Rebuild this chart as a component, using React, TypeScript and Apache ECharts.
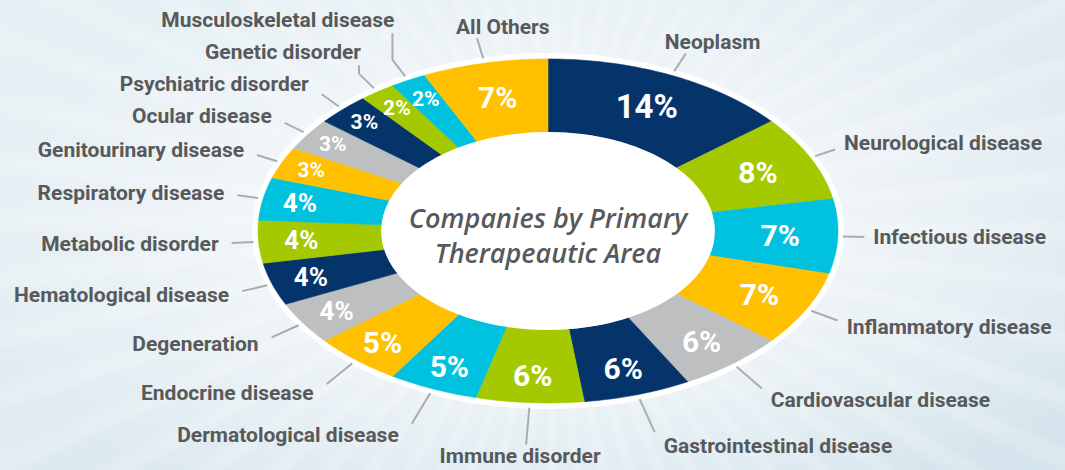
import React, { useEffect, useRef } from "react";
import * as echarts from "echarts";

const CATEGORIES = [
  "Neoplasm",
  "Neurological disease",
  "Infectious disease",
  "Inflammatory disease",
  "Cardiovascular disease",
  "Gastrointestinal disease",
  "Immune disorder",
  "Dermatological disease",
  "Endocrine disease",
  "Degeneration",
  "Hematological disease",
  "Metabolic disorder",
  "Respiratory disease",
  "Genitourinary disease",
  "Ocular disease",
  "Psychiatric disorder",
  "Genetic disorder",
  "Musculoskeletal disease",
  "All Others",
];
const VALUES = [14, 8, 7, 7, 6, 6, 6, 5, 5, 4, 4, 4, 4, 3, 3, 3, 2, 2, 7];
const PALETTE = ["#05346b", "#a4c900", "#00c2de", "#ffc000", "#bdbfc1"];
const CENTER_TITLE = ["Companies by Primary", "Therapeautic Area"];

// layout (geometry of the elliptical donut)
const CX = 548;
const CY = 231;
const RX = 290;
const RY = 172;
const INNER = 0.575;
const LABEL_FONT = "Roboto, sans-serif";
const LABEL_COLOR = "#58595b";
const LINE_COLOR = "#a9adb0";

function ptAt(t: number, sx: number, sy: number) {
  return [CX + sx * Math.sin(t), CY - sy * Math.cos(t)];
}

function computeLayout() {
  const total = VALUES.reduce((a, b) => a + b, 0);
  let acc = 0;
  const items = VALUES.map((v, i) => {
    const a0 = (acc / total) * Math.PI * 2;
    acc += v;
    const a1 = (acc / total) * Math.PI * 2;
    const am = (a0 + a1) / 2;
    const s = Math.sin(am);
    const c = Math.cos(am);
    const [ox, oy] = ptAt(am, RX, RY);
    let dx = s * 1.4;
    let dy = -c;
    const n = Math.hypot(dx, dy);
    dx /= n;
    dy /= n;
    const L = 26 + Math.max(0, -c) * 16;
    const sx0 = ox + dx * 5;
    const sy0 = oy + dy * 5;
    const ex = ox + dx * L;
    const ey = oy + dy * L;
    let side = "";
    let lx = 0;
    let ly = 0;
    let align = "left";
    let valign = "middle";
    if (c > 0 && Math.abs(s) < 0.45) {
      side = "top";
      lx = ex - 21;
      ly = ey - 1;
      valign = "bottom";
    } else if (c < 0 && Math.abs(s) < 0.2) {
      side = "bottom";
      lx = ex - 6;
      ly = ey + 1;
      align = "center";
      valign = "top";
    } else if (s > 0) {
      side = "right";
      lx = ex + 9;
      ly = ey - c * 15;
    } else {
      side = "left";
      lx = ex - 13;
      ly = ey - c * 12;
      align = "right";
    }
    const frac =
      0.8 +
      0.05 * Math.max(0, -s) +
      0.04 * Math.max(0, -c) +
      0.12 * Math.max(0, -s) * Math.max(0, c) -
      (Math.abs(s) < 0.3 && c > 0 ? 0.04 : 0);
    const [px, py] = ptAt(am, RX * frac, RY * frac);
    return {
      i, v, a0, a1, am, sx0, sy0, ex, ey, side, lx, ly, align, valign, px, py,
      pts: [[sx0, sy0], [ex, ey]] as number[][],
    };
  });
  // resolve overlaps of left-side labels, bottom to top
  const left = items.filter((d) => d.side === "left").sort((a, b) => b.ly - a.ly);
  for (let k = 1; k < left.length; k++) {
    const prev = left[k - 1];
    const cur = left[k];
    if (cur.ly > prev.ly - 32) {
      const shifted = prev.ly - 32;
      if (cur.ly - shifted > 5) {
        cur.lx = cur.ex + 2;
        cur.pts = [[cur.sx0, cur.sy0], [cur.ex, cur.ey], [cur.ex, shifted + 13]];
      }
      cur.ly = shifted;
    }
  }
  return items;
}

function pctFont(v: number) {
  if (v >= 10) return 33;
  if (v >= 5) return 30;
  if (v === 4) return 26;
  return 21;
}

export default function App() {
  const ref = useRef<HTMLDivElement>(null);
  useEffect(() => {
    if (!ref.current) return;
    const chart = echarts.init(ref.current, null, { renderer: "svg" });
    const layout = computeLayout();

    const renderItem = (params: any, api: any) => {
      const d = layout[params.dataIndex];
      const value = api.value(1);
      const color = PALETTE[params.dataIndex % PALETTE.length];
      const steps = Math.max(8, Math.ceil((d.a1 - d.a0) * 60));
      const outer: number[][] = [];
      const inner: number[][] = [];
      for (let k = 0; k <= steps; k++) {
        const t = d.a0 + ((d.a1 - d.a0) * k) / steps;
        outer.push(ptAt(t, RX, RY));
        inner.push(ptAt(t, RX * INNER, RY * INNER));
      }
      const points = outer.concat(inner.reverse());
      return {
        type: "group",
        children: [
          {
            type: "polygon",
            shape: { points },
            style: { fill: color, stroke: color, lineWidth: 0.6 },
          },
          {
            type: "polyline",
            shape: { points: d.pts },
            style: { stroke: LINE_COLOR, lineWidth: 2, fill: null },
          },
          {
            type: "text",
            x: d.px,
            y: d.py,
            style: {
              text: value + "%",
              fill: "#ffffff",
              fontFamily: LABEL_FONT,
              fontWeight: "bold",
              fontSize: pctFont(value),
              align: "center",
              verticalAlign: "middle",
            },
          },
          {
            type: "text",
            x: d.lx,
            y: d.ly,
            style: {
              text: CATEGORIES[params.dataIndex],
              fill: LABEL_COLOR,
              fontFamily: LABEL_FONT,
              fontWeight: "bold",
              fontSize: 21,
              align: d.align,
              verticalAlign: d.valign,
            },
          },
        ],
      };
    };

    chart.setOption({
      animation: false,
      graphic: [
        {
          type: "ellipse",
          shape: { cx: CX, cy: CY, rx: RX + 6, ry: RY + 6 },
          style: { fill: "#ffffff" },
          z: 0,
        },
        {
          type: "ellipse",
          shape: { cx: CX, cy: CY, rx: RX * INNER, ry: RY * INNER },
          style: { fill: "#ffffff" },
          z: 10,
        },
        {
          type: "text",
          x: CX,
          y: CY - 14,
          style: {
            text: CENTER_TITLE[0],
            fill: "#58595b",
            fontFamily: "'Open Sans', sans-serif",
            fontStyle: "italic",
            fontWeight: 600,
            fontSize: 27,
            align: "center",
            verticalAlign: "middle",
          },
          z: 11,
        },
        {
          type: "text",
          x: CX,
          y: CY + 21,
          style: {
            text: CENTER_TITLE[1],
            fill: "#58595b",
            fontFamily: "'Open Sans', sans-serif",
            fontStyle: "italic",
            fontWeight: 600,
            fontSize: 27,
            align: "center",
            verticalAlign: "middle",
          },
          z: 11,
        },
      ],
      series: [
        {
          type: "custom",
          coordinateSystem: "none",
          z: 2,
          data: VALUES.map((v, i) => [i, v]),
          renderItem,
        },
      ],
    });
    return () => chart.dispose();
  }, []);

  return (
    <div
      ref={ref}
      style={{
        position: "fixed",
        left: 0,
        top: 0,
        width: 1065,
        height: 470,
        background:
          "radial-gradient(ellipse 60% 65% at 52% 50%, rgba(255,255,255,0.95) 0%, rgba(255,255,255,0.4) 60%, rgba(255,255,255,0) 100%), repeating-conic-gradient(from 0deg at 52% 48%, rgba(255,255,255,0.18) 0deg 1deg, rgba(255,255,255,0) 2.5deg 5deg, rgba(255,255,255,0.18) 6deg), linear-gradient(160deg, #e6f0f4 0%, #dde9f0 60%, #d4e4ec 100%)",
      }}
    />
  );
}
